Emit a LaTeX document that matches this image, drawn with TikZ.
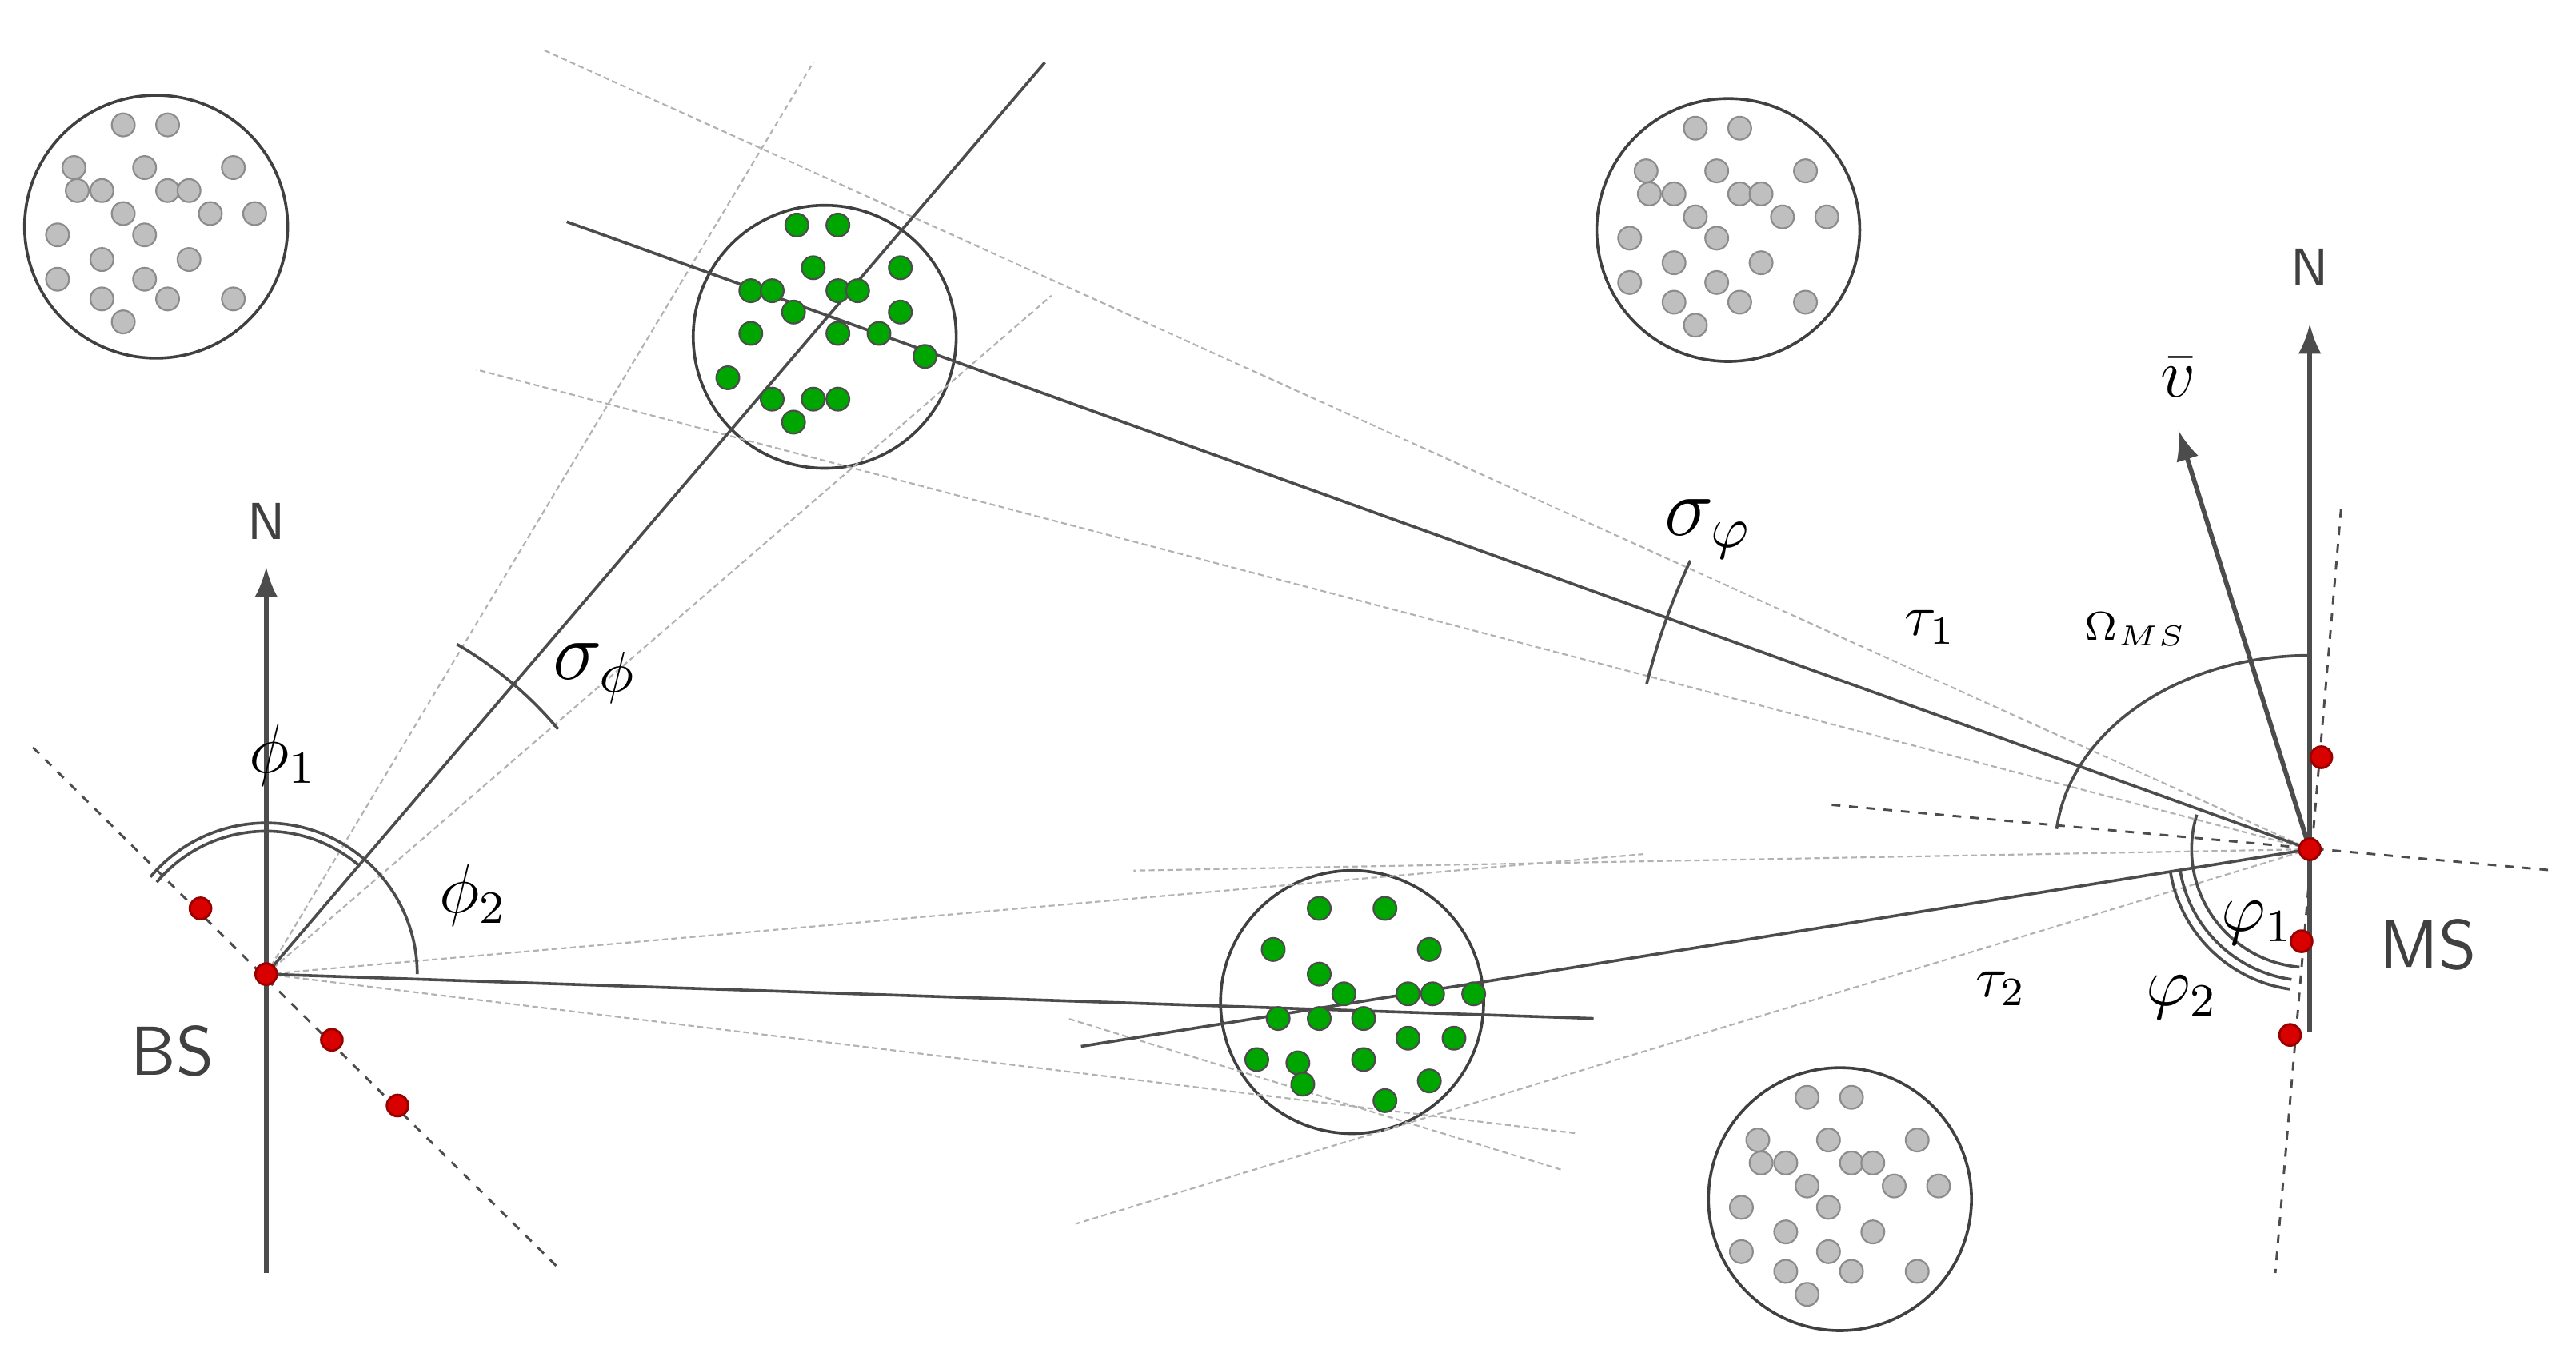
\documentclass[tikz,border=0pt]{standalone}
\usepackage{tikz}
\usetikzlibrary{calc}
\tikzset{
  ray/.style={draw=black!70, line width=0.5pt},
  faint/.style={draw=black!30, line width=0.3pt, dash pattern=on 1pt off 0.6pt},
  axis/.style={draw=black!70, line width=0.8pt, -latex},
  array/.style={draw=black!70, line width=0.4pt, dash pattern=on 1.5pt off 1.5pt},
  ant/.style={circle, fill=red!85!black, draw=red!60!black, inner sep=0pt, minimum size=0.13cm},
  grn/.style={circle, fill=green!65!black, draw=black!70, line width=0.3pt, inner sep=0pt, minimum size=0.14cm},
  gry/.style={circle, fill=black!25, draw=black!45, line width=0.3pt, inner sep=0pt, minimum size=0.14cm},
  cluster/.style={circle, draw=black!75, line width=0.5pt, minimum size=1.6cm, inner sep=0pt},
  lbl/.style={font=\sffamily\small, text=black!75},
  sym/.style={font=\large},
}
\begin{document}
\begin{tikzpicture}[x=0.01cm, y=-0.01cm]
\useasboundingbox (0,0) rectangle (1568,833);
% stations
\coordinate (bs) at (162,593);
\coordinate (ms) at (1406,517);
% clusters
\node[cluster] (c1) at (95,138) {};
\node[cluster] (c2) at (1052,140) {};
\node[cluster] (c3) at (1120,730) {};
\node[cluster] (s1) at (502,205) {};
\node[cluster] (s2) at (823,610) {};
% faint spread lines
\draw[faint] (bs) -- (495,38);
\draw[faint] (bs) -- (640,180);
\draw[faint] (bs) -- (1000,520);
\draw[faint] (bs) -- (960,690);
\draw[faint] (ms) -- (330,30);
\draw[faint] (ms) -- (290,225);
\draw[faint] (ms) -- (690,530);
\draw[faint] (ms) -- (655,745);
\draw[faint] (950,712) -- (650,620);
% main rays
\draw[ray] (bs) -- (636,38);
\draw[ray] (ms) -- (345,135);
\draw[ray] (bs) -- (970,620);
\draw[ray] (ms) -- (658,637);
% antenna arrays
\draw[array] (20,455) -- (340,772);
\draw[array] (1115,490) -- (1555,530);
\draw[array] (1425,310) -- (1385,775);
% north axes and velocity
\draw[axis] (162,775) -- (162,345) node[lbl, above=1pt] (nbs) {N};
\draw[axis] (1406,628) -- (1406,197) node[lbl, above=3pt] (nms) {N};
\draw[axis] (ms) -- (1326,262) node[above=2pt, sym] (vel) {$\bar{v}$};
% angle arcs BS
\draw[ray] (bs) ++(0:92) arc (0:-140:92);
\draw[ray] (bs) ++(-50:87) arc (-50:-140:87);
\draw[ray] (bs) ++(-40:232) arc (-40:-60:232);
% angle arcs MS
\draw[ray] (ms) ++(-174:155 and 118) arc[start angle=-174, end angle=-90, x radius=155, y radius=118];
\draw[ray] (ms) ++(-163:72) arc (-163:-265:72);
\draw[ray] (ms) ++(-189:80) arc (-189:-262:80);
\draw[ray] (ms) ++(-189:86) arc (-189:-262:86);
\draw[ray] (ms) ++(-155:416) arc (-155:-166:416);
% red antennas
\node[ant] (b0) at (bs) {};
\node[ant] (b1) at (122,553) {};
\node[ant] (b2) at (202,633) {};
\node[ant] (b3) at (242,673) {};
\node[ant] (m0) at (ms) {};
\node[ant] (m1) at (1413,461) {};
\node[ant] (m2) at (1401,573) {};
\node[ant] (m3) at (1394,630) {};
% scatterers
\foreach \p in {(485,137),(510,137),(495,163),(548,163),(457,177),(470,177),(510,177),(522,177),(483,190),(548,190),(457,203),(510,203),(535,203),(563,217),(443,230),(470,243),(495,243),(510,243),(483,257)}
  \node[grn] at \p {};
\foreach \p in {(803,553),(843,553),(775,578),(870,578),(803,593),(818,605),(778,620),(857,605),(872,605),(897,605),(830,620),(790,647),(857,632),(885,632),(765,645),(793,660),(830,645),(843,670),(870,658),(803,620)}
  \node[grn] at \p {};
\foreach \dx/\dy in {-20/-62,7/-62,-50/-36,-7/-36,47/-36,-48/-22,-33/-22,7/-22,20/-22,-20/-8,33/-8,60/-8,-7/5,-60/5,20/20,-33/20,-7/32,47/44,-60/32,-33/44,7/44,-20/58}{
  \node[gry] at ($(95,138)+(\dx,\dy)$) {};
  \node[gry] at ($(1052,140)+(\dx,\dy)$) {};
  \node[gry] at ($(1120,730)+(\dx,\dy)$) {};
}
% labels
\node[lbl, font=\sffamily\large] (bsl) at (105,640) {BS};
\node[lbl, font=\sffamily\large] (msl) at (1478,575) {MS};
\node[sym] (phi1) at (172,460) {$\phi_1$};
\node[sym] (phi2) at (288,545) {$\phi_2$};
\node[font=\Large] (sgb) at (362,410) {$\sigma_{\phi}$};
\node[font=\Large] (sgm) at (1040,322) {$\sigma_{\varphi}$};
\node (tau1) at (1175,382) {$\tau_1$};
\node (tau2) at (1218,602) {$\tau_2$};
\node[font=\scriptsize] (om) at (1300,383) {$\Omega_{MS}$};
\node[sym] (vp1) at (1374,562) {$\varphi_1$};
\node[sym] (vp2) at (1328,607) {$\varphi_2$};
\end{tikzpicture}
\end{document}
